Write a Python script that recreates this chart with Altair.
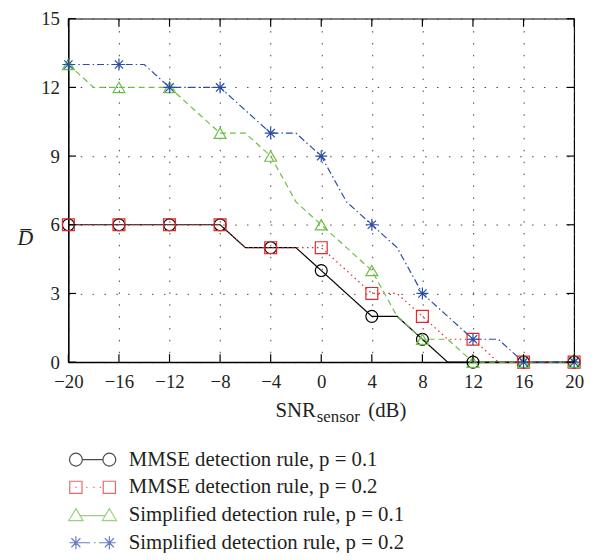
import altair as alt
import pandas as pd

# ---- data -----------------------------------------------------------------
snr = [-20, -18, -16, -14, -12, -10, -8, -6, -4, -2, 0, 2, 4, 6, 8, 10, 12, 14, 16, 18, 20]
mmse_p1 = [6, 6, 6, 6, 6, 6, 6, 5, 5, 5, 4, 3, 2, 2, 1, 0, 0, 0, 0, 0, 0]
mmse_p2 = [6, 6, 6, 6, 6, 6, 6, 5, 5, 5, 5, 4, 3, 3, 2, 1, 1, 0, 0, 0, 0]
simp_p1 = [13, 12, 12, 12, 12, 11, 10, 10, 9, 7, 6, 5, 4, 2, 1, 1, 0, 0, 0, 0, 0]
simp_p2 = [13, 13, 13, 13, 12, 12, 12, 11, 10, 10, 9, 7, 6, 5, 3, 2, 1, 1, 0, 0, 0]

names = [
    "MMSE detection rule, p = 0.1",
    "MMSE detection rule, p = 0.2",
    "Simplified detection rule, p = 0.1",
    "Simplified detection rule, p = 0.2",
]
x_ticks = [-20, -16, -12, -8, -4, 0, 4, 8, 12, 16, 20]
y_ticks = [0, 3, 6, 9, 12, 15]

# ---- styles ---------------------------------------------------------------
colors = ["#000000", "#e8262a", "#6cbf45", "#2a4ea2"]
dashes = [[1, 0], [1.5, 3.5], [6, 4], [7, 3, 1.5, 3]]
ASTER = "M-1,0L1,0M0,-1L0,1M-0.7,-0.7L0.7,0.7M-0.7,0.7L0.7,-0.7"
shapes = ["circle", "square", "triangle-up", ASTER]

leg_circle = ("M-3.6,0A1,1 0 1,0 -1.6,0A1,1 0 1,0 -3.6,0"
              "M1.6,0A1,1 0 1,0 3.6,0A1,1 0 1,0 1.6,0"
              "M-1.6,0L1.6,0")
leg_square = ("M-3.55,-0.95L-1.65,-0.95L-1.65,0.95L-3.55,0.95Z"
              "M1.65,-0.95L3.55,-0.95L3.55,0.95L1.65,0.95Z"
              "M-2.7,0L-2.5,0M-1.0,0L-0.8,0M0.1,0L0.3,0M1.1,0L1.3,0")
leg_tri = ("M-2.6,-1L-1.5,0.85L-3.7,0.85Z"
           "M2.6,-1L3.7,0.85L1.5,0.85Z"
           "M-1.95,0.1L1.95,0.1")
leg_ast = ("M-3.6,0L-1.6,0M-2.6,-1L-2.6,1M-3.3,-0.7L-1.9,0.7M-3.3,0.7L-1.9,-0.7"
           "M1.6,0L3.6,0M2.6,-1L2.6,1M1.9,-0.7L3.3,0.7M1.9,0.7L3.3,-0.7"
           "M-1.6,0L-0.4,0M0.2,0L0.45,0M1.0,0L1.6,0")
legend_shapes = [leg_circle, leg_square, leg_tri, leg_ast]

FONT = "Liberation Serif"
TXT = "#231f20"

rows = []
for name, ys in zip(names, [mmse_p1, mmse_p2, simp_p1, simp_p2]):
    for xv, yv in zip(snr, ys):
        rows.append({"series": name, "snr": xv, "D": yv, "marker": xv % 4 == 0})
df = pd.DataFrame(rows)

xscale = alt.Scale(domain=[-20, 20], nice=False)
yscale = alt.Scale(domain=[0, 15], nice=False)

X = alt.X("snr:Q", scale=xscale,
          axis=alt.Axis(values=x_ticks, title=None, grid=True, labelFlush=False,
                        ticks=False, labelPadding=11))
Y = alt.Y("D:Q", scale=yscale,
          axis=alt.Axis(values=y_ticks, title="D\u0305", grid=True, ticks=False,
                        labelFlush=False, labelPadding=9, titleAngle=0,
                        titleX=-44, titleY=221, titleAlign="center",
                        titleBaseline="middle", titleFontStyle="italic",
                        titleFontSize=22))

color_enc = alt.Color("series:N", scale=alt.Scale(domain=names, range=colors), legend=None)

lines = alt.Chart(df).mark_line(strokeWidth=1.2).encode(
    x=X, y=Y, color=color_enc,
    strokeDash=alt.StrokeDash("series:N", scale=alt.Scale(domain=names, range=dashes), legend=None),
    order="snr:Q",
)

points = alt.Chart(df).transform_filter("datum.marker").mark_point(
    filled=False, size=144, strokeWidth=1.2, opacity=1
).encode(
    x="snr:Q", y="D:Q", color=color_enc,
    shape=alt.Shape("series:N", scale=alt.Scale(domain=names, range=shapes), legend=None),
)

leg_props = dict(orient="none", legendX=14, legendY=435, title=None, labelFont=FONT,
                 labelFontSize=21, labelColor=TXT, symbolSize=169,
                 symbolStrokeWidth=1.2, labelOffset=26, rowPadding=6, padding=0,
                 direction="vertical", labelLimit=450)

legend_layer = alt.Chart(df).transform_filter("false").mark_point(filled=False).encode(
    x="snr:Q", y="D:Q",
    color=alt.Color("series:N", scale=alt.Scale(domain=names, range=colors),
                    legend=alt.Legend(**leg_props)),
    shape=alt.Shape("series:N", scale=alt.Scale(domain=names, range=legend_shapes),
                    legend=alt.Legend(**leg_props)),
)

# inward tick marks (in data units)
xt = pd.DataFrame({"snr": x_ticks})
yt = pd.DataFrame({"D": y_ticks})
tick_style = dict(color="black", strokeWidth=1.2)
t_bottom = alt.Chart(xt).mark_rule(**tick_style).encode(x="snr:Q", y=alt.datum(0), y2=alt.datum(0.35))
t_top = alt.Chart(xt).mark_rule(**tick_style).encode(x="snr:Q", y=alt.datum(15), y2=alt.datum(14.65))
t_left = alt.Chart(yt).mark_rule(**tick_style).encode(y="D:Q", x=alt.datum(-20), x2=alt.datum(-19.4))
t_right = alt.Chart(yt).mark_rule(**tick_style).encode(y="D:Q", x=alt.datum(20), x2=alt.datum(19.4))

# x-axis title with subscript, as text
title_df = pd.DataFrame({"t": [0]})
ttl_main = alt.Chart(title_df).mark_text(
    text="SNR", font=FONT, fontSize=21, color=TXT, align="right", baseline="alphabetic"
).encode(x=alt.value(250), y=alt.value(402))
ttl_sub = alt.Chart(title_df).mark_text(
    text="sensor", font=FONT, fontSize=17, color=TXT, align="left", baseline="alphabetic"
).encode(x=alt.value(251), y=alt.value(407))
ttl_unit = alt.Chart(title_df).mark_text(
    text="(dB)", font=FONT, fontSize=21, color=TXT, align="left", baseline="alphabetic"
).encode(x=alt.value(303), y=alt.value(402))

chart = alt.layer(
    lines, points, t_bottom, t_top, t_left, t_right, ttl_main, ttl_sub, ttl_unit, legend_layer
).resolve_scale(
    color="independent", shape="independent", strokeDash="independent"
).properties(
    width=511, height=347,
    padding={"left": 61, "top": 8, "right": 12, "bottom": 190},
    autosize=alt.AutoSizeParams(type="none"),
).configure_view(
    stroke="black", strokeWidth=1.2
).configure_axis(
    labelFont=FONT, labelFontSize=19, labelColor=TXT,
    titleFont=FONT, titleFontSize=19, titleFontWeight="normal", titleColor=TXT,
    domainColor="black", domainWidth=1.2,
    gridColor="#444", gridDash=[1.5, 10.5], gridWidth=1, gridOpacity=1,
)

chart.save("out.html", embed_options={"renderer": "svg", "actions": False})
